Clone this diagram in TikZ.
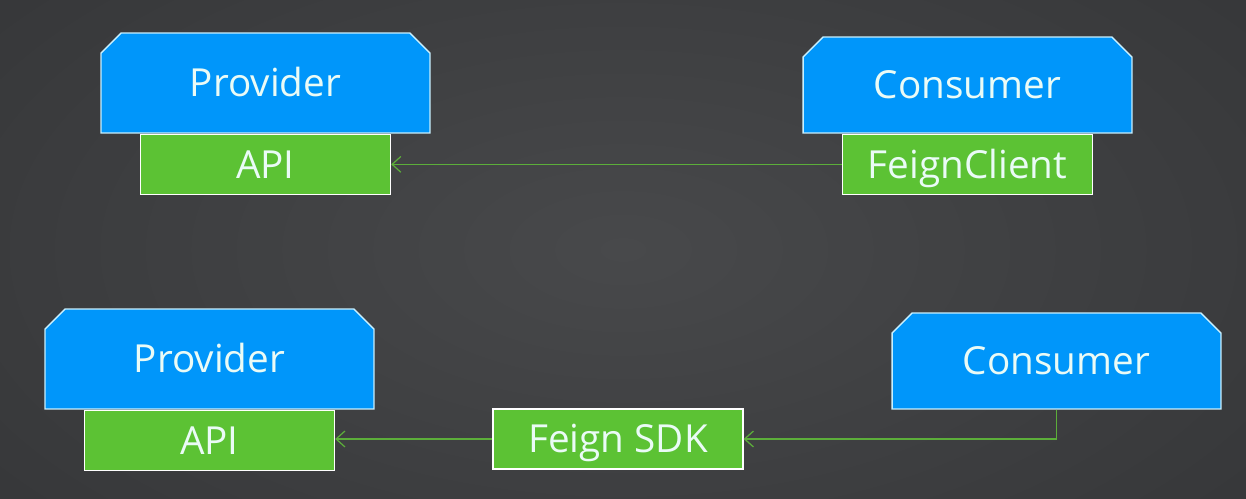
\documentclass[tikz,border=0pt]{standalone}
\usepackage{fontspec}
\setmainfont{Open Sans}
\usetikzlibrary{shapes.misc,arrows.meta,positioning}
\definecolor{bgin}{HTML}{48494B}
\definecolor{bgout}{HTML}{37383A}
\definecolor{boxblue}{HTML}{0096FA}
\definecolor{blueedge}{HTML}{C8F0FF}
\definecolor{boxgreen}{HTML}{5CC234}
\definecolor{linegreen}{HTML}{5CAE3A}
\definecolor{txt}{HTML}{EAFBF6}

\begin{document}
\begin{tikzpicture}[x=0.02cm,y=-0.02cm,
    every node/.style={font=\fontsize{22}{26}\selectfont, text=txt,
        text height=15.7pt, text depth=0pt},
    svc/.style={chamfered rectangle, chamfered rectangle corners={north west,north east},
        chamfered rectangle xsep=0.28cm, fill=boxblue, draw=blueedge, line width=0.8pt,
        minimum width=6.58cm, inner sep=0pt},
    lib/.style={rectangle, fill=boxgreen, draw=white, line width=0.8pt,
        minimum width=5cm, minimum height=1.2cm, inner sep=0pt},
    call/.style={draw=linegreen, line width=0.7pt, -{Straight Barb[length=5pt,width=9pt]}}]
    % background
    \useasboundingbox (0,0) rectangle (1246,499);
    \begin{scope}
      \clip (0,0) rectangle (1246,499);
      \shade[inner color=bgin, outer color=bgout] (-150,-150) rectangle (1396,649);
    \end{scope}

    % feign client in the consumer
    \node [svc, minimum height=2cm] (prov1) at (265.5,83) {Provider};
    \node [lib, below=0pt of prov1] (api1) {API};
    \node [svc, minimum height=1.92cm] (cons1) at (967.5,85) {Consumer};
    \node [lib, below=0pt of cons1] (client) {FeignClient};
    \draw [call] (client) -- (client -| api1.east);

    % feign sdk in between
    \node [svc, minimum height=2cm] (prov2) at (209.5,359) {Provider};
    \node [lib, below=0pt of prov2] (api2) {API};
    \node [svc, minimum height=1.92cm] (cons2) at (1056.5,361) {Consumer};
    \node [lib] (sdk) at (618,439) {Feign SDK};
    \draw [call] (sdk) -- (sdk -| api2.east);
    \draw [call] (cons2.south) |- (sdk);
\end{tikzpicture}
\end{document}
